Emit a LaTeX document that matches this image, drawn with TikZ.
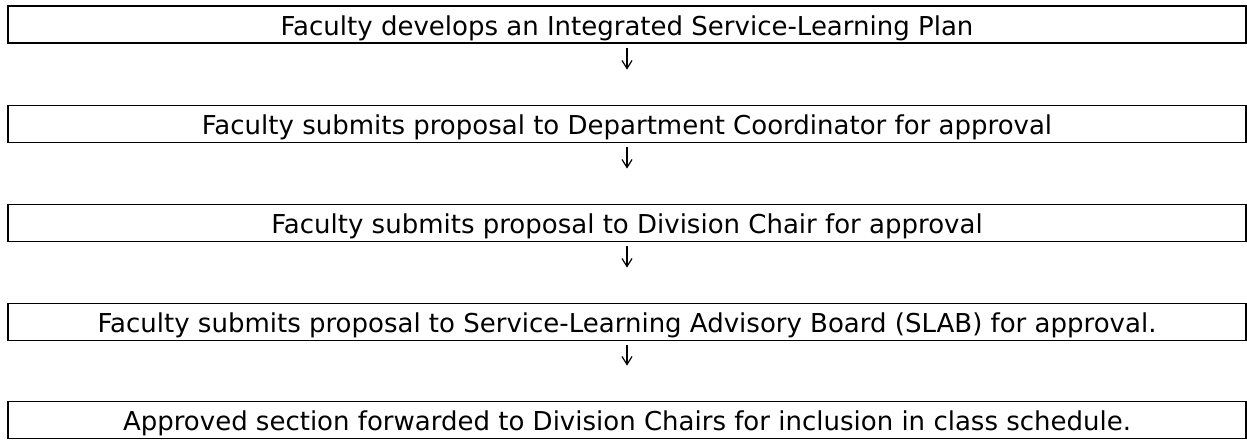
\documentclass[tikz,border=0pt]{standalone}
\usepackage{fontspec}
\setmainfont{DejaVu Sans}
\usetikzlibrary{arrows.meta}

\tikzset{
	stage/.style={draw, line width=0.9pt, minimum width=619pt, minimum height=18.5pt, inner sep=0pt, text height=12pt, text depth=1.5pt, font=\fontsize{13}{15}\selectfont},
	flow/.style={-{Straight Barb[length=4pt,width=5pt]}, line width=0.6pt, shorten <=2pt, shorten >=17.5pt}
}

\begin{document}
\begin{tikzpicture}[x=0.5pt,y=-0.5pt]
		\useasboundingbox (0,0) rectangle (1247,439);
		\node[stage] (plan) at (627,24.5) {Faculty develops an Integrated Service-Learning Plan};
		\node[stage] (dept) at (627,124) {Faculty submits proposal to Department Coordinator for approval};
		\node[stage] (chair) at (627,223) {Faculty submits proposal to Division Chair for approval};
		\node[stage] (slab) at (627,322) {Faculty submits proposal to Service-Learning Advisory Board (SLAB) for approval.};
		\node[stage] (sched) at (627,420) {Approved section forwarded to Division Chairs for inclusion in class schedule.};
		% arrows sit just under each box
		\draw[flow] (plan.south) -- (dept.north);
		\draw[flow] (dept.south) -- (chair.north);
		\draw[flow] (chair.south) -- (slab.north);
		\draw[flow] (slab.south) -- (sched.north);
		\end{tikzpicture}
\end{document}
